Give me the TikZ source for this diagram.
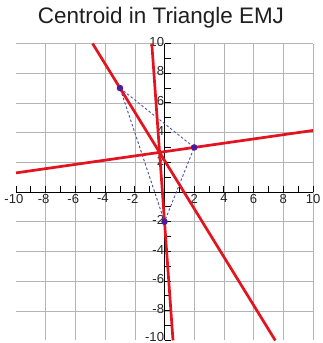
\documentclass[tikz,border=0pt]{standalone}
\usepackage{fontspec}
\setmainfont{Liberation Sans}
\definecolor{medred}{HTML}{E3141F}
\definecolor{sideblue}{HTML}{4A4FA8}
\definecolor{dotpurple}{HTML}{4B1E96}
\definecolor{gridgray}{HTML}{B4B4B4}
\begin{document}
\begin{tikzpicture}[x=0.5cm,y=0.5cm,
  gridline/.style={draw=gridgray, line width=0.5pt},
  axisline/.style={draw=black, line width=0.9pt},
  tickline/.style={draw=black, line width=0.9pt},
  median/.style={draw=medred, line width=2.6pt},
  side/.style={draw=sideblue, line width=0.85pt, dash pattern=on 2.4pt off 2pt},
  vertex/.style={circle, fill=dotpurple, inner sep=0pt, minimum size=6.3pt},
  xlab/.style={anchor=north, inner sep=1pt, text=black!85, font=\fontsize{12.5}{13}\selectfont},
  ylab/.style={anchor=east, inner sep=1pt, text=black!85, font=\fontsize{12.5}{13}\selectfont},
  titletext/.style={font=\fontsize{21.5}{24}\selectfont, text=black!88}]
\useasboundingbox (-11.08,-10.17) rectangle (10.61,12.93);
\fill[white] (-11.08,-10.17) rectangle (10.61,12.93);
\node[titletext] (title) at (-0.24,11.72) {Centroid in Triangle EMJ};
% grid and axes
\draw[gridline] (-10,-10) grid (10,10);
\coordinate (xl) at (-10,0); \coordinate (xr) at (10,0);
\coordinate (yb) at (0,-10); \coordinate (yt) at (0,10);
\draw[axisline] (xl) -- (xr);
\draw[axisline] (yb) -- (yt);
\foreach \t in {-10,...,10} {
  \draw[tickline] (\t,0) -- (\t,0.4);
  \draw[tickline] (0,\t) -- (0.45,\t);
}
\foreach \v in {2,4,...,10} {
  \node[xlab] (xp\v) at (\v,-0.05) {\v};
  \node[xlab] (xn\v) at (-\v,-0.05) {\llap{-}\v};
  \node[ylab] (yp\v) at (0.05,\v+0.12) {\v};
}
\foreach \v in {2,4,...,8} {
  \node[ylab] (yn\v) at (0.05,-\v+0.12) {-\v};
}
\node[ylab] (yn10) at (0.05,-9.78) {-10};
% triangle vertices
\coordinate (Ec) at (-3,7);
\coordinate (Mc) at (2,3);
\coordinate (Jc) at (0,-2);
\draw[side] (Ec) -- (Mc) -- (Jc) -- cycle;
% medians, extended to the grid
\coordinate (Etop) at (-4.846,10);
\coordinate (Ebot) at (7.462,-10);
\coordinate (Mleft) at (-10,1.2857);
\coordinate (Mright) at (10,4.1429);
\coordinate (Jtop) at (-0.857,10);
\coordinate (Jbot) at (0.5714,-10);
\draw[median] (Etop) -- (Ebot);
\draw[median] (Mleft) -- (Mright);
\draw[median] (Jtop) -- (Jbot);
\node[vertex] (E) at (Ec) {};
\node[vertex] (M) at (Mc) {};
\node[vertex] (J) at (Jc) {};
\end{tikzpicture}
\end{document}
